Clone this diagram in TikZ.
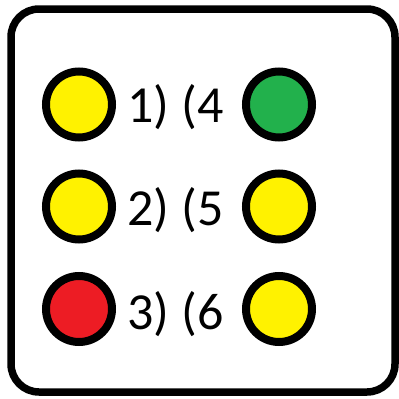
\documentclass[tikz,border=0pt]{standalone}
\usepackage{fontspec}
\setmainfont{Carlito}
\definecolor{ly}{HTML}{FFF200}
\definecolor{lg}{HTML}{22B14C}
\definecolor{lr}{HTML}{ED1C24}
\begin{document}
\begin{tikzpicture}[x=1pt,y=-1pt,
  lamp/.style={circle,draw=black,line width=8pt,minimum size=66pt,inner sep=0pt},
  lbl/.style={anchor=base,font=\fontsize{52}{60}\selectfont,inner sep=0pt}]
\useasboundingbox (0,0) rectangle (399,399);
\draw[line width=7.5pt,rounded corners=28pt] (11,9) rectangle (395,392);
\node[lamp,fill=ly] (a1) at (79,104.5) {};
\node[lamp,fill=ly] (a2) at (79,206.5) {};
\node[lamp,fill=lr] (a3) at (79,309) {};
\node[lamp,fill=lg] (b1) at (279,104.5) {};
\node[lamp,fill=ly] (b2) at (279,206.5) {};
\node[lamp,fill=ly] (b3) at (279,309) {};
\node[lbl] (t1) at (175.5,122.5) {1) (4};
\node[lbl] (t2) at (175.5,225.5) {2) (5};
\node[lbl] (t3) at (175.5,329) {3) (6};
\end{tikzpicture}
\end{document}
